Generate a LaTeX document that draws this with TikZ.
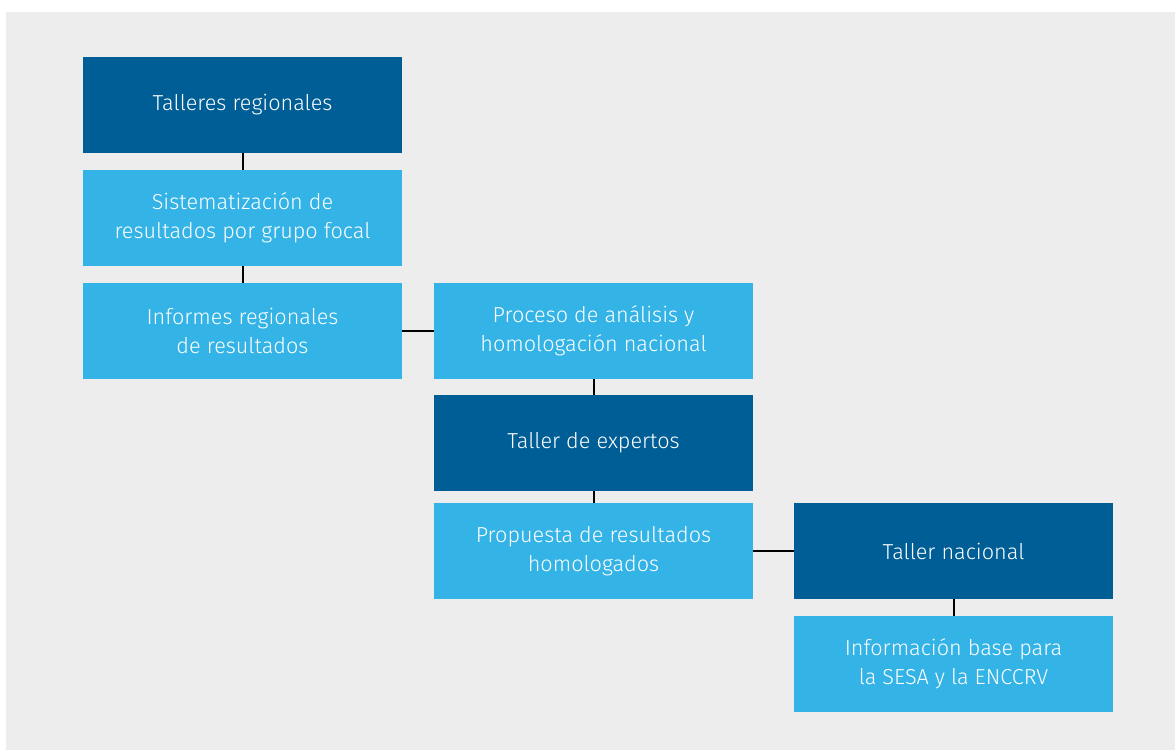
\documentclass[tikz,border=0pt]{standalone}
\usepackage{fontspec}
\setmainfont{Fira Sans Light}
\usepackage{tikz}
\usetikzlibrary{positioning}
\definecolor{fondo}{RGB}{237,237,237}
\definecolor{azuloscuro}{RGB}{0,94,150}
\definecolor{azulclaro}{RGB}{51,179,230}
\tikzset{
	caja/.style={minimum width=7.975cm, minimum height=2.4cm, inner sep=0pt, align=center, text=white, font=\fontsize{15.4}{20.8}\selectfont},
	oscura/.style={caja, fill=azuloscuro},
	clara/.style={caja, fill=azulclaro},
	enlace/.style={line width=0.5mm, color=black}
}

\begin{document}
\begin{tikzpicture}[x=0.025cm, y=-0.025cm]
		%%%%% START %%%%%
		
		\useasboundingbox (0, 0) rectangle (1175, 750);
		\fill[fondo] (6, 12) rectangle (1175, 750);
		
		\node[oscura] (talleres) at (242.5, 105) {Talleres regionales};
		\node[clara] (sistema) at (242.5, 218) {Sistematización de\\resultados por grupo focal};
		\node[clara] (informes) at (242.5, 331) {Informes regionales\\de resultados};
		
		\node[clara] (proceso) at (593.5, 331) {Proceso de análisis y\\homologación nacional};
		\node[oscura] (expertos) at (593.5, 443) {Taller de expertos};
		\node[clara] (propuesta) at (593.5, 551) {Propuesta de resultados\\homologados};
		
		\node[oscura] (nacional) at (953.5, 551) {Taller nacional};
		\node[clara] (base) at (953.5, 664) {Información base para\\la SESA y la ENCCRV};
		
		\draw[enlace] (talleres) -- (sistema);
		\draw[enlace] (sistema) -- (informes);
		\draw[enlace] (informes) -- (proceso);
		\draw[enlace] (proceso) -- (expertos);
		\draw[enlace] (expertos) -- (propuesta);
		\draw[enlace] (propuesta) -- (nacional);
		\draw[enlace] (nacional) -- (base);
		
		%%%%% END %%%%%
	\end{tikzpicture}
\end{document}
